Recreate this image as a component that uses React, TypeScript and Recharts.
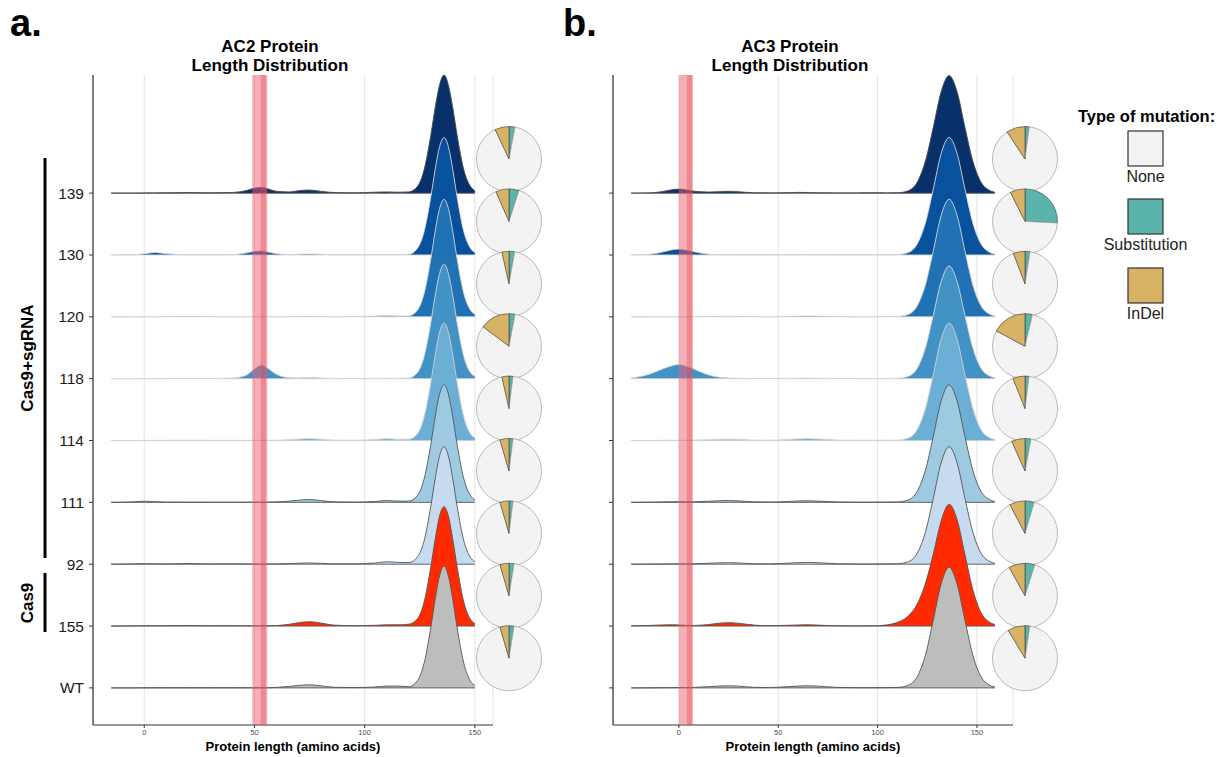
import React from 'react';
import {
  ComposedChart, Area, XAxis, YAxis, CartesianGrid, ReferenceArea,
  PieChart, Pie, Cell
} from 'recharts';

// rows from top to bottom
const rowLabels = ['139', '130', '120', '118', '114', '111', '92', '155', 'WT'];
const rowColors = ['#08306b', '#08519c', '#2171b5', '#4292c6', '#6baed6', '#9ecae1', '#c6dbef', '#ff2a00', '#bdbdbd'];
const rowOutlines = ['#4d4d4d', '#d6d6d6', '#d6d6d6', '#d6d6d6', '#cfcfcf', '#555555', '#555555', '#555555', '#555555'];

// AC2 protein length (amino acids) sample positions
const ac2Lengths = [-15, -5, 0, 5, 10, 20, 30, 40, 46, 50, 53, 56, 60, 66, 70, 75, 80, 86, 95, 105, 110, 115, 120, 124, 127, 130, 132, 134, 136, 138, 140, 142, 145, 148, 150];

// AC2 density (in row heights)
const ac2D139 = [0, 0, 0.003, 0.004, 0.005, 0.01, 0.005, 0.01, 0.04, 0.08, 0.09, 0.07, 0.03, 0.02, 0.04, 0.05, 0.03, 0.01, 0.005, 0.015, 0.02, 0.015, 0.02, 0.11, 0.38, 0.93, 1.38, 1.75, 1.91, 1.75, 1.38, 0.93, 0.38, 0.11, 0.04];
const ac2D130 = [0, 0.002, 0.02, 0.04, 0.02, 0.003, 0.002, 0.005, 0.03, 0.06, 0.07, 0.05, 0.02, 0.005, 0.01, 0.015, 0.01, 0.003, 0.002, 0.005, 0.008, 0.005, 0.01, 0.11, 0.38, 0.93, 1.38, 1.75, 1.9, 1.75, 1.38, 0.93, 0.38, 0.11, 0.04];
const ac2D120 = [0, 0, 0.002, 0.003, 0.004, 0.008, 0.004, 0.002, 0.002, 0.002, 0.003, 0.002, 0.002, 0.004, 0.006, 0.008, 0.005, 0.002, 0.004, 0.012, 0.02, 0.012, 0.015, 0.11, 0.38, 0.93, 1.38, 1.75, 1.9, 1.75, 1.38, 0.93, 0.38, 0.11, 0.04];
const ac2D118 = [0, 0, 0.002, 0.002, 0.002, 0.003, 0.003, 0.01, 0.05, 0.16, 0.22, 0.17, 0.07, 0.015, 0.012, 0.02, 0.012, 0.004, 0.003, 0.005, 0.006, 0.005, 0.01, 0.1, 0.36, 0.9, 1.34, 1.7, 1.85, 1.7, 1.34, 0.9, 0.36, 0.1, 0.04];
const ac2D114 = [0, 0, 0.002, 0.002, 0.002, 0.003, 0.002, 0.002, 0.002, 0.003, 0.003, 0.003, 0.005, 0.012, 0.022, 0.03, 0.02, 0.006, 0.004, 0.015, 0.03, 0.018, 0.02, 0.11, 0.38, 0.93, 1.38, 1.75, 1.9, 1.75, 1.38, 0.93, 0.38, 0.11, 0.04];
const ac2D111 = [0, 0.008, 0.018, 0.01, 0.004, 0.003, 0.002, 0.002, 0.003, 0.004, 0.004, 0.004, 0.008, 0.02, 0.035, 0.045, 0.03, 0.008, 0.004, 0.015, 0.03, 0.02, 0.02, 0.11, 0.38, 0.93, 1.38, 1.75, 1.9, 1.75, 1.38, 0.93, 0.38, 0.11, 0.04];
const ac2D92 = [0, 0.005, 0.01, 0.006, 0.005, 0.01, 0.005, 0.006, 0.004, 0.003, 0.003, 0.003, 0.005, 0.01, 0.016, 0.02, 0.014, 0.006, 0.006, 0.02, 0.04, 0.03, 0.025, 0.12, 0.38, 0.93, 1.38, 1.75, 1.9, 1.75, 1.38, 0.93, 0.38, 0.11, 0.04];
const ac2D155 = [0, 0.003, 0.005, 0.006, 0.006, 0.008, 0.005, 0.006, 0.004, 0.003, 0.003, 0.004, 0.008, 0.03, 0.055, 0.07, 0.05, 0.015, 0.006, 0.012, 0.02, 0.02, 0.03, 0.12, 0.39, 0.95, 1.4, 1.78, 1.93, 1.78, 1.4, 0.95, 0.39, 0.11, 0.04];
const ac2DWT = [0, 0, 0.002, 0.002, 0.002, 0.002, 0.002, 0.002, 0.002, 0.002, 0.003, 0.003, 0.008, 0.025, 0.04, 0.05, 0.035, 0.01, 0.005, 0.015, 0.03, 0.03, 0.02, 0.12, 0.4, 0.97, 1.43, 1.81, 1.97, 1.81, 1.43, 0.97, 0.4, 0.11, 0.04];

// AC3 protein length sample positions
const ac3Lengths = [-24, -15, -8, -4, 0, 4, 8, 15, 20, 25, 30, 38, 45, 55, 60, 65, 70, 80, 90, 96, 100, 105, 110, 115, 120, 124, 128, 132, 136, 140, 144, 148, 152, 156, 159];

const ac3D139 = [0, 0.004, 0.027, 0.052, 0.065, 0.052, 0.03, 0.018, 0.024, 0.03, 0.022, 0.006, 0.004, 0.008, 0.012, 0.01, 0.005, 0.003, 0.004, 0.006, 0.006, 0.004, 0.006, 0.034, 0.18, 0.51, 1.06, 1.64, 1.9, 1.64, 1.06, 0.51, 0.18, 0.05, 0.015];
const ac3D130 = [0, 0.01, 0.05, 0.08, 0.095, 0.08, 0.05, 0.012, 0.004, 0.003, 0.002, 0.002, 0.002, 0.003, 0.004, 0.004, 0.003, 0.002, 0.002, 0.002, 0.003, 0.004, 0.006, 0.034, 0.18, 0.51, 1.06, 1.64, 1.9, 1.64, 1.06, 0.51, 0.18, 0.05, 0.015];
const ac3D120 = [0, 0, 0.001, 0.002, 0.002, 0.002, 0.003, 0.005, 0.008, 0.01, 0.008, 0.004, 0.003, 0.008, 0.012, 0.015, 0.012, 0.004, 0.002, 0.003, 0.004, 0.004, 0.006, 0.034, 0.18, 0.51, 1.06, 1.64, 1.9, 1.64, 1.06, 0.51, 0.18, 0.05, 0.015];
const ac3D118 = [0.01, 0.07, 0.16, 0.205, 0.23, 0.2, 0.15, 0.06, 0.025, 0.012, 0.006, 0.003, 0.003, 0.005, 0.007, 0.008, 0.006, 0.003, 0.002, 0.002, 0.003, 0.004, 0.006, 0.033, 0.17, 0.49, 1.02, 1.57, 1.82, 1.57, 1.02, 0.49, 0.17, 0.05, 0.015];
const ac3D114 = [0, 0.001, 0.002, 0.003, 0.004, 0.005, 0.007, 0.012, 0.017, 0.02, 0.016, 0.006, 0.005, 0.016, 0.025, 0.03, 0.024, 0.006, 0.003, 0.003, 0.004, 0.004, 0.006, 0.034, 0.18, 0.51, 1.06, 1.64, 1.9, 1.64, 1.06, 0.51, 0.18, 0.05, 0.015];
const ac3D111 = [0, 0.003, 0.008, 0.01, 0.01, 0.009, 0.01, 0.018, 0.026, 0.03, 0.024, 0.008, 0.005, 0.014, 0.022, 0.025, 0.02, 0.006, 0.003, 0.003, 0.004, 0.004, 0.006, 0.034, 0.18, 0.51, 1.06, 1.64, 1.9, 1.64, 1.06, 0.51, 0.18, 0.05, 0.015];
const ac3D92 = [0, 0.002, 0.004, 0.005, 0.006, 0.006, 0.008, 0.015, 0.021, 0.025, 0.02, 0.007, 0.005, 0.016, 0.025, 0.03, 0.024, 0.007, 0.003, 0.003, 0.004, 0.005, 0.007, 0.035, 0.18, 0.51, 1.06, 1.64, 1.9, 1.64, 1.06, 0.51, 0.18, 0.05, 0.015];
const ac3D155 = [0.005, 0.01, 0.018, 0.02, 0.018, 0.012, 0.01, 0.025, 0.045, 0.055, 0.045, 0.015, 0.006, 0.012, 0.018, 0.02, 0.015, 0.004, 0.003, 0.004, 0.006, 0.02, 0.06, 0.15, 0.36, 0.68, 1.16, 1.7, 1.97, 1.72, 1.15, 0.58, 0.22, 0.07, 0.025];
const ac3DWT = [0, 0.001, 0.003, 0.004, 0.005, 0.006, 0.009, 0.02, 0.03, 0.035, 0.028, 0.009, 0.006, 0.02, 0.03, 0.035, 0.028, 0.008, 0.003, 0.003, 0.004, 0.005, 0.008, 0.036, 0.185, 0.52, 1.09, 1.68, 1.95, 1.68, 1.09, 0.52, 0.185, 0.05, 0.015];

// mutation type shares (%), rows top to bottom
const mutationTypes = ['None', 'Substitution', 'InDel'];
const mutationColors = ['#f3f3f3', '#5ab4ac', '#d8b365'];
const ac2None = [90, 88.4, 93.7, 82.2, 94.5, 93.5, 93.5, 93, 93];
const ac2Sub = [3, 5, 2.8, 3, 2, 2, 2, 2.5, 2.5];
const ac2InDel = [7, 6.6, 3.5, 14.8, 3.5, 4.5, 4.5, 4.5, 4.5];
const ac3None = [88.6, 66.8, 91.7, 79.1, 92, 90.3, 87.7, 87, 89];
const ac3Sub = [2.1, 25.8, 2.5, 3.7, 2, 3, 4.6, 4.9, 2.4];
const ac3InDel = [9.3, 7.4, 5.8, 17.2, 6, 6.7, 7.7, 8.1, 8.6];

const lengthTicks = [0, 50, 100, 150];
const rowTicks = [0, 1, 2, 3, 4, 5, 6, 7, 8];

const ac2Rows = [ac2D139, ac2D130, ac2D120, ac2D118, ac2D114, ac2D111, ac2D92, ac2D155, ac2DWT];
const ac3Rows = [ac3D139, ac3D130, ac3D120, ac3D118, ac3D114, ac3D111, ac3D92, ac3D155, ac3DWT];

const FONT = "'Liberation Sans', Arial, Helvetica, sans-serif";
const N = rowLabels.length;

function RidgePanel({ lengths, rows, domain, band, strip, labels, left }: any) {
  return (
    <div style={{ position: 'absolute', left, top: 0 }}>
      <ComposedChart width={520} height={757} margin={{ top: 75, right: 27, bottom: 12, left: 0 }}>
        <CartesianGrid horizontal={false} stroke="#e3e3e3" strokeWidth={1} />
        <XAxis
          type="number" dataKey="x" domain={domain} ticks={lengthTicks} allowDataOverflow
          height={20} tickSize={3} tickMargin={2}
          tick={{ fontSize: 7.5, fill: '#4d4d4d' }}
          axisLine={{ stroke: '#333', strokeWidth: 1.2 }} tickLine={{ stroke: '#333' }}
        />
        <YAxis
          type="number" domain={[-0.6, 9.91]} ticks={rowTicks} allowDataOverflow
          width={93} tickSize={4} tickMargin={5}
          tickFormatter={(v: number) => (labels ? rowLabels[N - 1 - v] : '')}
          tick={{ fontSize: 15.5, fill: '#1a1a1a' }}
          axisLine={{ stroke: '#333', strokeWidth: 1.2 }} tickLine={{ stroke: '#333' }}
        />
        {rows.map((dens: number[], i: number) => {
          const level = N - 1 - i;
          const data = lengths.map((x: number, k: number) => ({ x, band: [level, level + dens[k]] }));
          return (
            <Area
              key={rowLabels[i]}
              data={data}
              dataKey="band"
              type="monotone"
              fill={rowColors[i]}
              fillOpacity={1}
              stroke={rowOutlines[i]}
              strokeWidth={0.9}
              dot={false}
              activeDot={false}
              isAnimationActive={false}
            />
          );
        })}
        <ReferenceArea x1={band[0]} x2={band[1]} fill="#f06070" fillOpacity={0.5} stroke="none" zIndex={1000} />
        <ReferenceArea x1={strip[0]} x2={strip[1]} fill="#e0404f" fillOpacity={0.35} stroke="none" zIndex={1001} />
      </ComposedChart>
    </div>
  );
}

function MutationPies() {
  const cols = [
    { cx: 509, none: ac2None, sub: ac2Sub, indel: ac2InDel },
    { cx: 1025, none: ac3None, sub: ac3Sub, indel: ac3InDel },
  ];
  return (
    <div style={{ position: 'absolute', left: 0, top: 0, pointerEvents: 'none' }}>
      <PieChart width={1224} height={757} margin={{ top: 0, right: 0, bottom: 0, left: 0 }}>
        {cols.map((c, ci) =>
          rowLabels.map((lab, i) => {
            const data = [
              { name: 'Substitution', value: c.sub[i], fill: mutationColors[1] },
              { name: 'None', value: c.none[i], fill: mutationColors[0] },
              { name: 'InDel', value: c.indel[i], fill: mutationColors[2] },
            ];
            return (
              <Pie
                key={`${ci}-${lab}`}
                data={data}
                dataKey="value"
                nameKey="name"
                cx={c.cx}
                cy={159 + i * 62.4}
                innerRadius={0}
                outerRadius={32.5}
                startAngle={90}
                endAngle={-270}
                isAnimationActive={false}
                label={false}
                labelLine={false}
              >
                {data.map((d) => (
                  <Cell
                    key={d.name}
                    fill={d.fill}
                    stroke={d.name === 'None' ? '#a8a8a8' : '#3a3a3a'}
                    strokeWidth={d.name === 'None' ? 0.8 : 0.6}
                  />
                ))}
              </Pie>
            );
          })
        )}
      </PieChart>
    </div>
  );
}

function Annotations() {
  const legendY = [131, 199, 268];
  return (
    <svg width={1224} height={757} style={{ position: 'absolute', left: 0, top: 0, pointerEvents: 'none' }} fontFamily={FONT}>
      <text x={10} y={36} fontSize={38} fontWeight="bold" fill="#000">a.</text>
      <text x={563} y={36} fontSize={38} fontWeight="bold" fill="#000">b.</text>

      <text x={270} y={52} fontSize={17} fontWeight="bold" textAnchor="middle">AC2 Protein</text>
      <text x={270} y={71} fontSize={17} fontWeight="bold" textAnchor="middle">Length Distribution</text>
      <text x={790} y={52} fontSize={17} fontWeight="bold" textAnchor="middle">AC3 Protein</text>
      <text x={790} y={71} fontSize={17} fontWeight="bold" textAnchor="middle">Length Distribution</text>

      <text x={293} y={751} fontSize={13} fontWeight="bold" textAnchor="middle">Protein length (amino acids)</text>
      <text x={813} y={751} fontSize={13} fontWeight="bold" textAnchor="middle">Protein length (amino acids)</text>

      <rect x={43.5} y={158} width={3} height={400} fill="#000" />
      <rect x={43.5} y={573} width={3} height={59} fill="#000" />
      <text transform="translate(33,358) rotate(-90)" fontSize={17} fontWeight="bold" textAnchor="middle">Cas9+sgRNA</text>
      <text transform="translate(33,603) rotate(-90)" fontSize={17} fontWeight="bold" textAnchor="middle">Cas9</text>

      <text x={1078} y={122} fontSize={16.5} fontWeight="bold">Type of mutation:</text>
      {mutationTypes.map((t, i) => (
        <g key={t}>
          <rect x={1128} y={legendY[i]} width={35} height={35} fill={mutationColors[i]} stroke="#333" strokeWidth={1.2} />
          <text x={1145.5} y={legendY[i] + 51} fontSize={16} textAnchor="middle" fill="#222">{t}</text>
        </g>
      ))}
    </svg>
  );
}

export default function App() {
  return (
    <div style={{ position: 'absolute', left: 0, top: 0, width: 1224, height: 757, background: '#fff', fontFamily: FONT, overflow: 'hidden' }}>
      <RidgePanel lengths={ac2Lengths} rows={ac2Rows} domain={[-23.25, 158.25]} band={[49, 55.8]} strip={[52.8, 55.2]} labels left={0} />
      <RidgePanel lengths={ac3Lengths} rows={ac3Rows} domain={[-33.15, 168.15]} band={[0, 7]} strip={[4, 6.7]} labels={false} left={520} />
      <MutationPies />
      <Annotations />
    </div>
  );
}
